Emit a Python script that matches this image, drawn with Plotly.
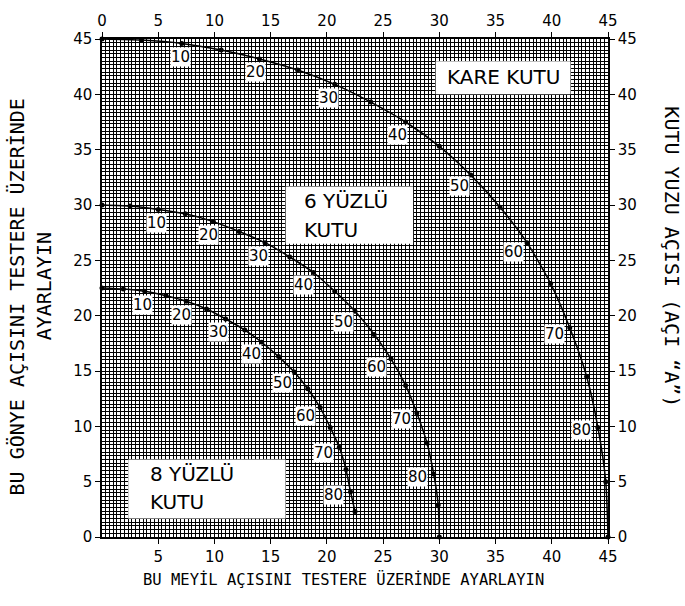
import math
import plotly.graph_objects as go

# Box side angle "A" (degrees) at each plotted dot
angles = [0, 5, 10, 15, 20, 25, 30, 35, 40, 45, 50, 55, 60, 65, 70, 75, 80, 85, 90]
labelled = [10, 20, 30, 40, 50, 60, 70, 80]

# Square box: bevel (x) and miter (y) settings
kare_bevel = [0.0, 3.5, 7.1, 10.6, 14.0, 17.4, 20.7, 23.9, 27.0, 30.0,
              32.8, 35.4, 37.8, 39.9, 41.6, 43.1, 44.1, 44.8, 45.0]
kare_miter = [45.0, 44.9, 44.6, 44.0, 43.2, 42.2, 40.9, 39.3, 37.5, 35.3,
              32.7, 29.8, 26.6, 22.9, 18.9, 14.5, 9.9, 5.0, 0.0]

# Six-sided box
alti_bevel = [0.0, 2.5, 5.0, 7.4, 9.9, 12.2, 14.5, 16.7, 18.8, 20.7,
              22.5, 24.2, 25.7, 27.0, 28.0, 28.9, 29.5, 29.9, 30.0]
alti_miter = [30.0, 29.9, 29.6, 29.2, 28.5, 27.6, 26.6, 25.3, 23.9, 22.2,
              20.4, 18.3, 16.1, 13.7, 11.2, 8.5, 5.7, 2.9, 0.0]

# Eight-sided box (curve ends at A = 85)
sekiz_bevel = [0.0, 1.9, 3.8, 5.7, 7.5, 9.3, 11.0, 12.7, 14.2, 15.7,
               17.1, 18.3, 19.4, 20.3, 21.1, 21.7, 22.1, 22.5]
sekiz_miter = [22.5, 22.4, 22.2, 21.8, 21.3, 20.6, 19.7, 18.7, 17.6, 16.3,
               14.9, 13.4, 11.7, 9.9, 8.1, 6.1, 4.1, 2.3]

ticks_all = [0, 5, 10, 15, 20, 25, 30, 35, 40, 45]
ticks_bottom = [5, 10, 15, 20, 25, 30, 35, 40, 45]

TICK_FONT = dict(family="DejaVu Sans", size=15, color="black")
LABEL_FONT = dict(family="DejaVu Sans", size=15, color="black")
BOX_FONT = dict(family="DejaVu Sans", size=20, color="black")
XTITLE_FONT = dict(family="DejaVu Sans Mono", size=15.5, color="black")
YTITLE_FONT = dict(family="DejaVu Sans Mono", size=20, color="black")
Y2TITLE_FONT = dict(family="DejaVu Sans Mono", size=20, color="black")

fig = go.Figure()

curves = [
    (kare_bevel, kare_miter),
    (alti_bevel, alti_miter),
    (sekiz_bevel, sekiz_miter),
]

annotations = []
for bx, my in curves:
    fig.add_trace(go.Scatter(
        x=bx, y=my, mode="lines+markers",
        line=dict(color="black", width=1.5, shape="spline", smoothing=0.6),
        marker=dict(color="black", size=5),
        hoverinfo="skip", showlegend=False, cliponaxis=False,
    ))
    n = len(bx)
    for i, a in enumerate(angles[:n]):
        if a not in labelled:
            continue
        j0, j1 = max(i - 1, 0), min(i + 1, n - 1)
        dx, dy = bx[j1] - bx[j0], my[j1] - my[j0]
        ln = math.hypot(dx, dy)
        nx, ny = dy / ln, -dx / ln          # inward normal (toward origin)
        dist = 13 + 4 * abs(nx)
        annotations.append(dict(
            x=bx[i], y=my[i], xref="x", yref="y", text=str(a),
            showarrow=False, font=LABEL_FONT, bgcolor="white",
            borderpad=0, xshift=dist * nx, yshift=dist * ny,
        ))

# Dummy trace so the top and right axes are drawn
fig.add_trace(go.Scatter(x=[0], y=[0], xaxis="x2", yaxis="y2", mode="markers",
                         marker=dict(opacity=0), hoverinfo="skip",
                         showlegend=False))

# White boxes holding the box-type names
boxes = [
    (29.67, 40.0, 41.67, 43.0),
    (16.33, 26.5, 27.67, 31.67),
    (2.33, 1.67, 16.33, 7.0),
]
shapes = [dict(type="rect", xref="x", yref="y", x0=a, y0=b, x1=c, y1=d,
               fillcolor="white", line=dict(width=0), layer="above")
          for a, b, c, d in boxes]

def box_text(x, y, text, anchor="left"):
    return dict(x=x, y=y, xref="x", yref="y", text=text, showarrow=False,
                font=BOX_FONT, xanchor=anchor, yanchor="middle")

def title(x, y, text, font, angle=0):
    return dict(x=x, y=y, xref="paper", yref="paper", text=text,
                showarrow=False, font=font, textangle=angle,
                xanchor="center", yanchor="middle")

annotations += [
    box_text(35.67, 41.55, "KARE KUTU", "center"),
    box_text(17.8, 30.4, "6 YÜZLÜ"),
    box_text(17.8, 27.7, "KUTU"),
    box_text(4.05, 5.65, "8 YÜZLÜ"),
    box_text(4.05, 3.15, "KUTU"),
    title(0.478, -0.085, "BU MEYİL AÇISINI TESTERE ÜZERİNDE AYARLAYIN",
          XTITLE_FONT),
    title(-0.168, 0.483, "BU GÖNYE AÇISINI TESTERE ÜZERİNDE", YTITLE_FONT, -90),
    title(-0.115, 0.503, "AYARLAYIN", YTITLE_FONT, -90),
    title(1.126, 0.562, "KUTU YUZU AÇISI (AÇI \u201cA\u201d)", Y2TITLE_FONT, 90),
]

grid = dict(showgrid=True, gridcolor="black", gridwidth=1)
minor = dict(dtick=1 / 3, showgrid=True, gridcolor="black", gridwidth=1,
             ticks="")
common = dict(range=[0, 45], zeroline=False, showline=True,
              linecolor="black", linewidth=1.5, ticks="outside", ticklen=5,
              tickcolor="black", tickwidth=1, tickfont=TICK_FONT)

fig.update_layout(
    width=685, height=606,
    margin=dict(l=102, r=77, t=32, b=69),
    paper_bgcolor="white", plot_bgcolor="white",
    xaxis=dict(**common, **grid, minor=minor, tickvals=ticks_bottom),
    yaxis=dict(**common, **grid, minor=minor, tickvals=ticks_all),
    xaxis2=dict(**common, overlaying="x", side="top", anchor="y",
                tickvals=ticks_all, showgrid=False),
    yaxis2=dict(**common, overlaying="y", side="right", anchor="x",
                tickvals=ticks_all, showgrid=False),
    shapes=shapes,
    annotations=annotations,
)

fig.write_html("out.html")
